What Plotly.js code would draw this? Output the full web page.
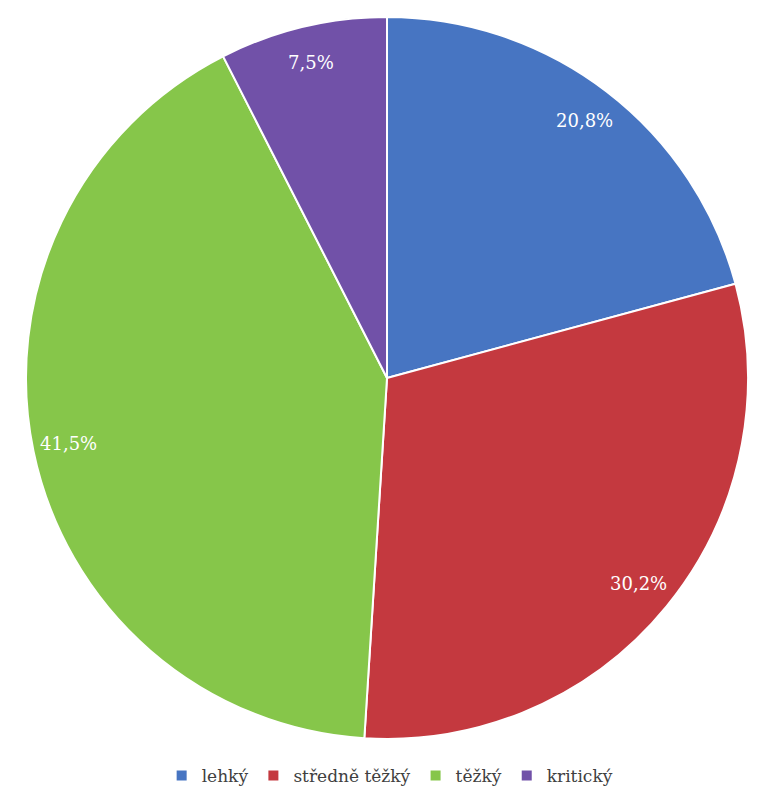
<!DOCTYPE html>
<html>
<head>
<meta charset="utf-8">
<script src="https://cdn.plot.ly/plotly-3.0.1.min.js"></script>
<style>html,body{margin:0;padding:0;background:#fff;}#chart{width:765px;height:800px;}</style>
</head>
<body>
<div id="chart"></div>
<script>
const categories = ["lehký", "středně těžký", "těžký", "kritický"];
const values = [20.8, 30.2, 41.5, 7.5];
const colors = ["#4775C2", "#C4393F", "#86C64A", "#7151A8"];

const W = 765, H = 800;
const CX = 387, CY = 378, R = 361;
const SERIF = "DejaVu Serif";

const data = [{
  type: "pie",
  labels: categories,
  values: values,
  sort: false,
  direction: "clockwise",
  rotation: 0,
  marker: { colors: colors, line: { color: "#ffffff", width: 2 } },
  textinfo: "none",
  hoverinfo: "label+percent",
  domain: { x: [(CX - R) / W, (CX + R) / W], y: [1 - (CY + R) / H, 1 - (CY - R) / H] }
}];

// percentage labels near the rim at each slice's mid angle (computed from the data)
const total = values.reduce((a, b) => a + b, 0);
const annotations = [];
let cum = 0;
values.forEach((v, i) => {
  const mid = (cum + v / 2) / total * 2 * Math.PI;
  cum += v;
  const rf = 0.9;
  const px = CX + rf * R * Math.sin(mid);
  const py = CY - rf * R * Math.cos(mid);
  annotations.push({
    x: px / W, y: 1 - py / H, xref: "paper", yref: "paper",
    xanchor: "center", yanchor: "middle", showarrow: false,
    text: (v / total * 100).toFixed(1).replace(".", ",") + "%",
    font: { family: SERIF, size: 18, color: "#ffffff" }
  });
});

const layout = {
  width: W,
  height: H,
  margin: { l: 0, r: 0, t: 0, b: 0 },
  paper_bgcolor: "#ffffff",
  showlegend: true,
  annotations: annotations,
  legend: {
    orientation: "h",
    x: 0.51, xanchor: "center",
    y: 0.03, yanchor: "middle",
    font: { family: SERIF, size: 17, color: "#404040" },
    itemwidth: 30,
    traceorder: "normal"
  }
};

Plotly.newPlot("chart", data, layout, { displayModeBar: false, staticPlot: true });
</script>
</body>
</html>
